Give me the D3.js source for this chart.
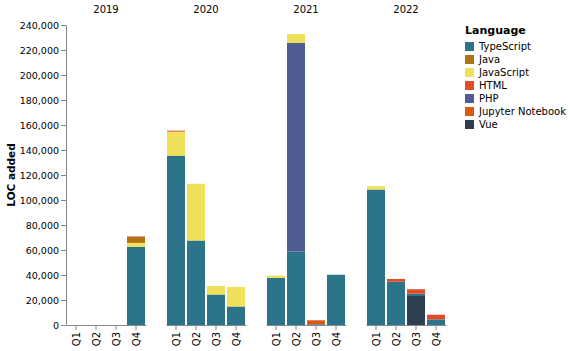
<!DOCTYPE html>
<html>
<head>
<meta charset="utf-8">
<script src="https://cdn.jsdelivr.net/npm/d3@7"></script>
<style>
  body { margin: 0; background: #fff; }
  svg { font-family: "DejaVu Sans", sans-serif; }
</style>
</head>
<body>
<svg id="chart" width="570" height="351"></svg>
<script>
// facets and categories
var years = ['2019', '2020', '2021', '2022'];
var quarters = ['Q1', 'Q2', 'Q3', 'Q4'];
var languages = ['TypeScript', 'Java', 'JavaScript', 'HTML', 'PHP', 'Jupyter Notebook', 'Vue'];
var langColors = ['#2b7489', '#b07219', '#f1e05a', '#e34c26', '#4f5d95', '#da5b0b', '#2c3e50'];
// bottom -> top
var stackOrder = ['Vue', 'TypeScript', 'PHP', 'Jupyter Notebook', 'JavaScript', 'Java', 'HTML'];
var yTicks = [0, 20000, 40000, 60000, 80000, 100000, 120000, 140000, 160000, 180000, 200000, 220000, 240000];

// LOC added per quarter, 2019 Q1 ... 2022 Q4
var typeScript = [0, 0, 0, 62500, 135500, 67600, 24400, 14800, 37600, 58800, 600, 40200, 108400, 34600, 1800, 4500];
var java       = [0, 0, 0, 4800, 0, 0, 0, 0, 0, 0, 0, 0, 0, 0, 0, 0];
var javaScript = [0, 0, 0, 3200, 19200, 45400, 6800, 15600, 1900, 7200, 0, 0, 2700, 0, 0, 0];
var html       = [0, 0, 0, 400, 800, 0, 0, 0, 0, 0, 500, 0, 0, 2200, 3600, 3700];
var php        = [0, 0, 0, 0, 0, 0, 0, 0, 0, 166800, 0, 0, 0, 0, 0, 0];
var jupyter    = [0, 0, 0, 0, 0, 0, 0, 0, 0, 0, 2800, 0, 0, 0, 0, 0];
var vue        = [0, 0, 0, 0, 0, 0, 0, 0, 0, 0, 0, 0, 0, 0, 23200, 0];

var series = {
  'TypeScript': typeScript, 'Java': java, 'JavaScript': javaScript, 'HTML': html,
  'PHP': php, 'Jupyter Notebook': jupyter, 'Vue': vue
};

var rows = [];
years.forEach((yr, i) => quarters.forEach((q, j) => {
  var row = { year: yr, quarter: q };
  languages.forEach(l => row[l] = series[l][i * 4 + j]);
  rows.push(row);
}));

var svg = d3.select('#chart');
var plotTop = 25, plotBottom = 325, left = 66, panelW = 80, gap = 20;

var color = d3.scaleOrdinal().domain(languages).range(langColors);
var y = d3.scaleLinear().domain([0, 240000]).range([plotBottom, plotTop]);
var x = d3.scaleBand().domain(quarters).range([0, panelW]).paddingInner(0.1).paddingOuter(0.05);
var stacked = d3.stack().keys(stackOrder)(rows);

// y axis
var yAxis = svg.append('g')
  .attr('transform', 'translate(' + left + ',0)')
  .call(d3.axisLeft(y).tickValues(yTicks).tickSize(5).tickSizeOuter(0).tickPadding(2).tickFormat(d3.format(',')));
yAxis.selectAll('path, line').attr('stroke', '#888');
yAxis.selectAll('text').attr('font-size', 9.5).attr('fill', '#000');
yAxis.attr('font-family', null).attr('font-size', null);

svg.append('text')
  .attr('transform', 'translate(15,' + ((plotTop + plotBottom) / 2) + ') rotate(-90)')
  .attr('text-anchor', 'middle')
  .attr('font-size', 10.5).attr('font-weight', 'bold')
  .text('LOC added');

// one panel per year
years.forEach((yr, i) => {
  var g = svg.append('g').attr('transform', 'translate(' + (left + i * (panelW + gap)) + ',0)');

  g.append('text')
    .attr('x', panelW / 2).attr('y', 13)
    .attr('text-anchor', 'middle').attr('font-size', 10)
    .text(yr);

  stacked.forEach(layer => {
    g.selectAll(null)
      .data(layer.filter(d => d.data.year === yr && d[1] > d[0]))
      .enter().append('rect')
      .attr('x', d => x(d.data.quarter))
      .attr('width', x.bandwidth())
      .attr('y', d => y(d[1]))
      .attr('height', d => y(d[0]) - y(d[1]))
      .attr('fill', color(layer.key));
  });

  var xAxis = g.append('g')
    .attr('transform', 'translate(0,' + plotBottom + ')')
    .call(d3.axisBottom(x).tickSize(5).tickSizeOuter(0));
  xAxis.attr('font-family', null).attr('font-size', null);
  xAxis.selectAll('path, line').attr('stroke', '#888');
  xAxis.selectAll('text')
    .attr('y', 0).attr('x', 0).attr('dy', '0.35em')
    .attr('transform', 'translate(0,7) rotate(-90)')
    .attr('text-anchor', 'end')
    .attr('font-size', 10).attr('fill', '#000');
});

// legend
var legend = svg.append('g').attr('transform', 'translate(465,0)');
legend.append('text')
  .attr('x', 0).attr('y', 34)
  .attr('font-size', 11).attr('font-weight', 'bold')
  .text('Language');

var item = legend.selectAll('.legend')
  .data(languages)
  .enter().append('g')
  .attr('class', 'legend')
  .attr('transform', (d, i) => 'translate(0,' + (46.5 + i * 13) + ')');

item.append('rect')
  .attr('x', 0).attr('y', -4.5)
  .attr('width', 9).attr('height', 9)
  .attr('fill', d => color(d));

item.append('text')
  .attr('x', 14).attr('y', 3.5)
  .attr('font-size', 10)
  .text(d => d);
</script>
</body>
</html>
